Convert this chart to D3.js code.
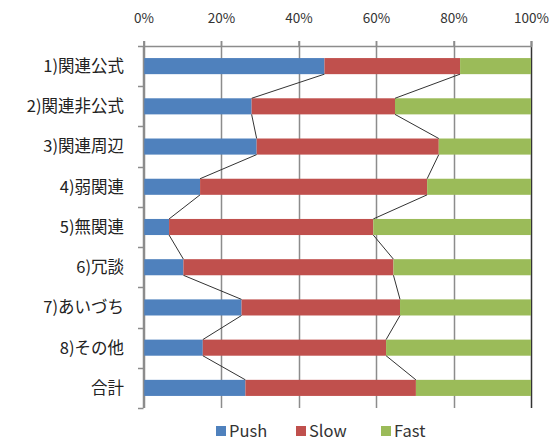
<!DOCTYPE html>
<html><head><meta charset="utf-8">
<script src="https://cdn.jsdelivr.net/npm/d3@7"></script>
<style>body{margin:0;background:#fff}svg{display:block}text{font-family:"Noto Sans CJK JP","Noto Sans",sans-serif}</style>
</head><body>
<script>
const categories = ["1)関連公式","2)関連非公式","3)関連周辺","4)弱関連","5)無関連","6)冗談","7)あいづち","8)その他","合計"];
const seriesNames = ["Push","Slow","Fast"];
const pushValues = [46.7,27.9,29.2,14.6,6.6,10.3,25.3,15.3,26.3];
const slowValues = [35.0,37.0,47.0,58.6,52.7,54.2,40.9,47.3,44.0];
const fastValues = [18.3,35.1,23.8,26.8,40.7,35.5,33.8,37.4,29.7];
const tickValues = [0,0.2,0.4,0.6,0.8,1.0];
const colors = ["#4F81BD","#C0504D","#9BBB59"];

const W=554,H=441;
const svg=d3.select("body").append("svg").attr("width",W).attr("height",H);
const x=d3.scaleLinear().domain([0,1]).range([143.5,531]);
const y=d3.scaleBand().domain(categories).range([46,408]).paddingInner(0.6).paddingOuter(0.3);

const rows=categories.map((c,i)=>{const v=[pushValues[i],slowValues[i],fastValues[i]];const t=d3.sum(v);return {cat:c,p:v[0]/t,s:v[1]/t,f:v[2]/t};});
const stack=d3.stack().keys(["p","s","f"])(rows);

// gridlines
const g=svg.append("g");
g.selectAll("line.grid").data(tickValues).join("line")
 .attr("x1",d=>Math.round(x(d))+0.5).attr("x2",d=>Math.round(x(d))+0.5)
 .attr("y1",41).attr("y2",408)
 .attr("stroke",(d,i)=>i===tickValues.length-1?"#333":"#8c8c8c").attr("stroke-width",1.5);

// bars
stack.forEach((s,k)=>{
 svg.append("g").attr("fill",colors[k]).selectAll("rect").data(s).join("rect")
  .attr("x",d=>x(d[0])).attr("width",d=>x(d[1])-x(d[0]))
  .attr("y",(d,i)=>y(categories[i])).attr("height",y.bandwidth());
});

// series lines
const lg=svg.append("g").attr("stroke","#333").attr("stroke-width",1).attr("fill","none");
[0,1].forEach(k=>{
 for(let i=0;i<categories.length-1;i++){
  lg.append("line")
   .attr("x1",x(stack[k][i][1])).attr("y1",y(categories[i])+y.bandwidth())
   .attr("x2",x(stack[k][i+1][1])).attr("y2",y(categories[i+1]));
 }
});

// top axis
const xAxis=d3.axisTop(x).tickValues(tickValues).tickFormat(d3.format(".0%")).tickSize(5).tickPadding(18);
const ax=svg.append("g").attr("transform","translate(0,46)").call(xAxis);
ax.select(".domain").attr("stroke","#8c8c8c").attr("stroke-width",1.5);
ax.selectAll(".tick line").attr("stroke","#8c8c8c").attr("stroke-width",1.5);
ax.selectAll("text").attr("font-size",13.5).attr("fill","#333");

// left axis
const la=svg.append("g");
la.append("line").attr("x1",143.5).attr("x2",143.5).attr("y1",46).attr("y2",408).attr("stroke","#8c8c8c").attr("stroke-width",1.5);
const bounds=d3.range(categories.length+1).map(i=>46+i*(362/categories.length));
la.selectAll("line.t").data(bounds).join("line").attr("class","t")
 .attr("x1",138).attr("x2",143.5).attr("y1",d=>Math.round(d)+0.5).attr("y2",d=>Math.round(d)+0.5)
 .attr("stroke","#8c8c8c").attr("stroke-width",1.5);
la.selectAll("text").data(categories).join("text")
 .attr("x",124).attr("y",d=>y(d)+y.bandwidth()/2).attr("dy","0.36em")
 .attr("text-anchor","end").attr("font-size",16.5).attr("fill","#222").text(d=>d);

// legend
const legX=[216,296,381];
const leg=svg.append("g");
seriesNames.forEach((n,i)=>{
 leg.append("rect").attr("x",legX[i]).attr("y",426).attr("width",10).attr("height",10).attr("fill",colors[i]);
 leg.append("text").attr("x",legX[i]+13).attr("y",431.5).attr("dy","0.36em").attr("font-size",16.5).attr("fill","#333").text(n);
});
</script>
</body></html>
